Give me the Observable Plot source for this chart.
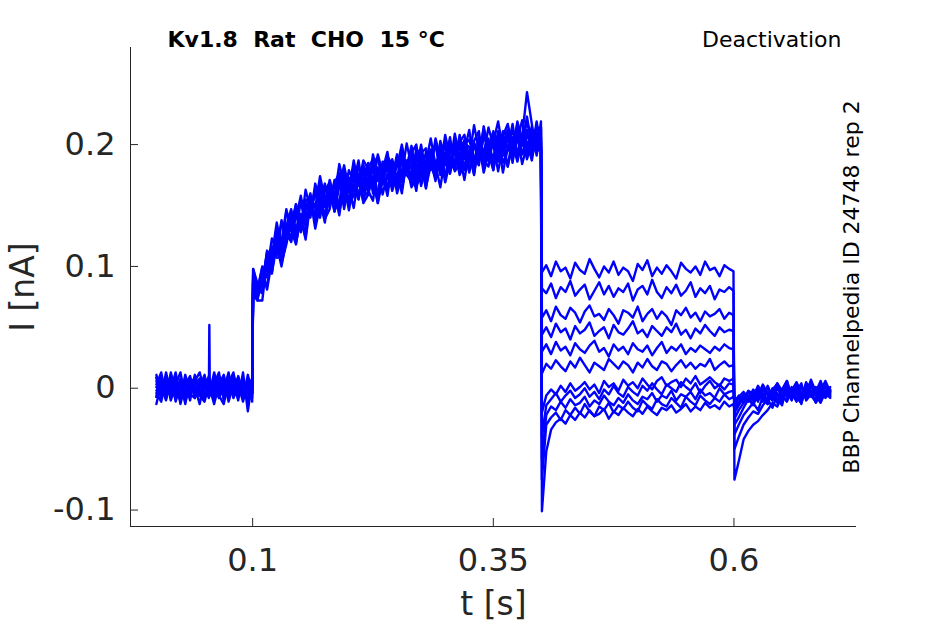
<!DOCTYPE html>
<html>
<head>
<meta charset="utf-8">
<script src="https://cdn.jsdelivr.net/npm/d3@7"></script>
<script src="https://cdn.jsdelivr.net/npm/@observablehq/plot@0.6"></script>
<style>
  html, body { margin: 0; padding: 0; background: #fff; }
  #chart svg { display: block; }
</style>
</head>
<body>
<div id="chart"></div>
<script>
// ---- text ----
const titleText = "Kv1.8\u00a0\u00a0Rat\u00a0\u00a0CHO\u00a0\u00a015 °C";
const protocolText = "Deactivation";
const sideText = "BBP Channelpedia ID 24748 rep 2";
const xLabel = "t [s]";
const yLabel = "I [nA]";

// ---- axes ----
const xTicks = [0.1, 0.35, 0.6];
const yTicks = [-0.1, 0, 0.1, 0.2];
const xDomain = [-0.0269, 0.7273];
const yDomain = [-0.1135, 0.2797];

// ---- sample times (ms), per protocol segment ----
const timeBaselineMs = [0,5,10,15,20,25,30,35,40,45,50,54.5,55,55.5,60,65,70,75,80,85,90,95,99.5];
const timeActivationMs = [100.5,105,110,115,120,125,130,135,140,145,150,155,160,165,170,175,180,185,190,195,200,205,210,215,220,225,230,235,240,245,250,255,260,265,270,275,280,285,290,295,300,305,310,315,320,325,330,335,340,345,350,355,360,365,370,375,380,385,390,395,399.5];
const timeDeactivationMs = [400.5,405,410,415,420,425,430,435,440,445,450,455,460,465,470,475,480,485,490,495,500,505,510,515,520,525,530,535,540,545,550,555,560,565,570,575,580,585,590,595,599.5];
const timeReturnMs = [600.5,605,610,615,620,625,630,635,640,645,650,655,660,665,670,675,680,685,690,695,700];

// ---- current (pA), one row per sweep ----
const baselinePA = [
  [6,-8,13,-4,8,-13,3,10,-7,1,11,-6,-3,4,-10,7,-1,13,-8,3,-11,6,-4],
  [-7,10,-3,11,-11,4,-6,8,1,-13,6,8,3,-4,10,-8,4,-3,11,-7,8,-13,1],
  [11,-4,7,-10,3,13,-7,-1,10,-6,-11,3,7,-1,4,13,-10,1,-6,10,-3,7,-8],
  [-13,4,-8,7,-3,-10,11,-4,6,13,-3,-7,-4,0,-13,3,11,-7,4,-10,13,-19,6],
  [3,13,-6,1,-8,8,-11,4,-3,7,1,-4,52,-1,8,-6,-13,7,-3,4,-8,11,-4],
  [-4,-11,8,-1,13,-6,4,-10,11,-3,7,-8,-6,3,-3,10,-7,4,13,-6,1,-10,8],
  [8,1,-10,13,-4,6,-13,7,-8,4,-1,10,6,-3,13,-4,8,-11,3,7,-7,3,-11],
  [-7,5,3,-4,7,-1,6,-5,-8,7,-6,1,3,5,-5,1,-3,7,-7,-1,4,-4,2],
  [1,-4,8,-8,4,-6,9,1,-3,-6,3,9,0,-4,4,-8,2,-6,5,8,-3,6,-5],
  [9,-2,-5,3,-9,2,-3,8,5,-2,-9,4,7,-6,1,6,-8,2,-3,9,-7,1,8],
  [-2,6,-9,7,1,-8,5,-4,3,8,6,-7,-6,-5,-4,3,7,-9,6,-6,3,-5,-1]
];
const activationPA = [
  [93,80,100,97,123,114,138,121,144,127,154,152,140,168,153,168,148,171,165,183,162,183,166,179,163,192,174,170,190,184,171,197,179,196,172,193,197,179,205,189,185,206,181,202,208,189,202,187,215,196,211,191,207,217,198,204,220,197,215,193,219],
  [87,79,81,106,101,123,105,130,120,147,135,130,154,140,165,140,158,149,171,147,170,165,155,180,162,154,181,177,164,188,172,164,185,173,191,166,183,192,175,197,174,182,202,178,195,177,200,193,185,205,179,203,191,207,185,212,192,202,187,210,196],
  [88,81,99,91,114,109,136,125,121,146,152,137,147,164,140,162,169,155,152,180,163,176,156,183,175,164,160,186,184,173,192,169,182,167,192,196,178,190,175,203,187,181,202,178,200,204,189,183,210,200,188,211,191,206,187,215,199,212,193,219,198],
  [80,75,91,84,116,107,108,134,130,118,143,133,156,131,150,140,163,160,142,170,152,158,176,153,173,171,152,179,164,184,160,175,183,165,172,192,165,183,173,192,173,197,182,191,171,195,183,202,177,193,200,178,199,182,206,189,205,188,202,194,198],
  [98,83,84,110,109,136,116,145,135,151,132,163,147,158,169,149,171,157,184,167,162,187,167,187,180,165,192,177,191,172,182,200,178,193,200,175,185,205,183,195,202,182,209,190,202,188,216,195,212,192,202,219,196,212,194,219,204,218,204,214,213],
  [86,81,78,108,104,127,106,132,123,147,129,146,160,136,146,164,164,145,172,154,163,181,155,173,163,183,181,159,176,165,190,173,186,190,167,173,186,196,172,194,183,203,178,184,201,198,179,207,193,187,207,206,185,195,213,193,205,191,210,204,202],
  [93,82,85,113,106,125,110,133,147,130,132,155,151,140,170,152,151,169,176,152,173,162,184,161,171,184,190,168,172,185,168,193,182,199,176,174,194,184,201,175,193,201,182,208,188,186,203,211,184,196,210,189,209,196,217,191,207,243,217,191,214],
  [80,72,95,81,105,117,103,118,139,122,140,124,155,142,157,139,147,169,145,167,164,148,174,157,161,182,158,176,158,184,171,165,185,180,162,191,175,187,170,191,169,186,179,201,179,193,176,202,187,182,206,186,204,182,201,186,204,192,201,198,203],
  [89,74,87,106,94,127,110,131,124,151,128,151,146,141,166,149,168,145,166,175,153,175,158,168,185,160,178,167,188,180,164,188,175,170,197,189,171,195,185,180,202,177,198,188,204,178,201,185,206,198,183,207,192,212,189,205,192,208,199,201,196],
  [98,86,86,112,102,132,120,147,129,139,158,137,158,148,174,155,166,152,177,159,179,169,187,161,181,188,170,179,194,170,190,175,201,182,180,200,176,194,200,181,208,189,185,206,195,212,185,206,192,214,199,191,211,207,192,217,200,223,199,215,206],
  [77,72,72,106,95,117,100,122,136,119,140,122,152,140,154,136,165,146,154,167,146,166,176,152,159,174,152,171,181,162,176,160,187,172,165,184,164,189,183,165,191,176,196,175,184,193,175,203,180,193,179,203,177,198,190,207,184,200,190,205,194]
];
const deactivationPA = [
  [95,101,92,104,96,99,90,103,97,94,106,98,91,100,95,104,93,99,96,88,102,97,105,92,99,94,101,96,90,103,98,95,100,93,104,97,99,92,101,98,96],
  [82,78,86,74,83,79,88,76,81,85,73,80,87,77,84,75,82,79,86,72,81,84,77,89,79,74,83,78,85,76,80,87,75,82,78,84,73,81,79,83,80],
  [58,64,55,67,60,57,66,62,54,63,68,59,61,56,65,60,53,64,62,58,67,55,61,65,57,63,59,52,64,60,66,58,62,55,63,59,61,65,57,62,60],
  [44,50,42,53,46,49,40,51,45,48,54,43,47,50,41,52,46,44,49,55,45,48,42,51,47,43,50,46,53,44,48,41,49,45,52,47,43,50,46,48,47],
  [30,36,28,38,31,34,27,37,32,29,35,39,30,33,26,36,31,34,28,37,32,30,35,27,33,38,29,34,31,36,28,33,30,35,32,29,34,31,36,33,32],
  [12,20,16,23,18,14,22,17,25,19,13,21,18,15,24,20,16,22,19,13,21,17,24,18,15,22,20,14,19,23,17,21,16,20,18,24,15,19,22,18,19],
  [-20,-6,-1,-5,2,-3,4,-2,1,5,-1,3,-4,6,1,4,-2,7,2,5,0,8,3,-1,6,9,2,5,7,1,8,4,10,3,6,9,5,2,8,6,8],
  [-40,-14,-9,-4,-11,-6,-2,-8,-5,0,-7,-3,-9,-1,-5,2,-4,-7,1,-3,-6,2,-2,4,-1,-5,3,0,-3,5,1,-2,4,-4,2,6,0,3,-1,4,3],
  [-58,-22,-15,-18,-11,-16,-9,-14,-12,-7,-15,-10,-13,-6,-11,-14,-8,-12,-5,-10,-13,-7,-9,-4,-11,-6,-8,-2,-10,-5,-7,-3,-9,-1,-6,-4,-8,0,-5,-3,-2],
  [-75,-30,-24,-20,-26,-18,-22,-16,-21,-13,-19,-23,-15,-18,-12,-20,-14,-17,-11,-16,-19,-10,-14,-17,-9,-13,-15,-8,-12,-16,-7,-11,-14,-6,-10,-13,-8,-11,-5,-9,-7],
  [-101,-52,-34,-28,-25,-29,-22,-26,-20,-24,-18,-23,-21,-17,-25,-19,-22,-16,-20,-23,-17,-21,-15,-19,-22,-16,-18,-14,-20,-17,-13,-19,-15,-18,-12,-16,-14,-17,-11,-15,-13]
];
const returnPA = [
  [-75,-60,-42,-35,-30,-27,-22,-18,-12,-15,-6,-10,-2,-8,-12,0,-7,-4,-10,3,-6],
  [-50,-40,-30,-24,-19,-21,-14,-9,-16,-5,-11,1,-8,-3,-13,4,-6,-9,2,-4,-8],
  [-38,-30,-22,-17,-12,-18,-7,-13,-2,-9,-14,3,-6,-1,-10,5,-4,-11,-2,6,-3],
  [-30,-24,-16,-9,-14,-4,-11,2,-7,-12,-1,6,-8,-3,4,-10,-5,1,-9,-2,-4],
  [-25,-18,-12,-6,-10,-2,-8,-13,0,-5,-9,3,-4,-11,1,-6,7,-3,-8,2,-1],
  [-20,-14,-8,-3,-9,1,-5,-11,-2,4,-7,-1,-10,3,-4,-8,2,-6,-12,-3,-2],
  [-16,-11,-5,-9,-1,-6,3,-4,-10,1,-3,6,-7,-2,-9,0,5,-5,-1,-7,1],
  [-14,-8,-12,-3,-7,2,-5,-9,-1,3,-6,-11,-2,5,-4,-8,1,-3,6,-5,-2],
  [-12,-6,-9,-2,-5,-11,0,-4,-8,4,-2,-7,1,-5,-10,2,-3,-6,4,-8,-3],
  [-10,-7,-3,-8,-13,-2,-6,1,-9,-4,-12,2,-5,-1,-8,3,-6,-11,0,-4,-7],
  [-18,-12,-7,-11,-4,-9,-1,-6,-10,0,-7,-3,-9,2,-5,-8,-2,-12,-4,1,-5]
];

// ---- build long table (s, nA) ----
const timeMs = [...timeBaselineMs, ...timeActivationMs, ...timeDeactivationMs, ...timeReturnMs];
const rows = [];
baselinePA.forEach((_, k) => {
  const vals = [...baselinePA[k], ...activationPA[k], ...deactivationPA[k], ...returnPA[k]];
  vals.forEach((v, j) => rows.push({sweep: k, t: timeMs[j] / 1000, i: v / 1000}));
});

const ink = "#262626";
const chart = Plot.plot({
  width: 945,
  height: 624,
  marginLeft: 130,
  marginRight: 89,
  marginTop: 47,
  marginBottom: 98,
  style: {fontFamily: "'DejaVu Sans', sans-serif", color: ink, background: "#fff"},
  x: {domain: xDomain, label: null},
  y: {domain: yDomain, label: null},
  marks: [
    Plot.line(rows, {x: "t", y: "i", z: "sweep", stroke: "#0000ff", strokeWidth: 2.4, strokeLinejoin: "round"}),
    Plot.ruleX([xDomain[0]], {stroke: ink, strokeWidth: 1}),
    Plot.ruleY([yDomain[0]], {stroke: ink, strokeWidth: 1}),
    Plot.axisY({ticks: yTicks, tickSize: -8, tickPadding: 23, fontSize: 32, tickFormat: d => String(d), label: null, stroke: ink}),
    Plot.axisX({ticks: xTicks, tickSize: -8, tickPadding: 30, fontSize: 32, tickFormat: d => String(d), label: null, stroke: ink}),
    Plot.text([yLabel], {text: d => d, frameAnchor: "left", rotate: -90, dx: -107, fontSize: 33, fill: ink, textAnchor: "middle", lineAnchor: "middle"}),
    Plot.text([xLabel], {text: d => d, frameAnchor: "bottom", dy: 78, fontSize: 33, fill: ink, textAnchor: "middle", lineAnchor: "middle"}),
    Plot.text([titleText], {text: d => d, frameAnchor: "top-left", dx: 37, dy: -8, fontSize: 22, fontWeight: "bold", fill: "#000", textAnchor: "start", lineAnchor: "middle"}),
    Plot.text([protocolText], {text: d => d, frameAnchor: "top-right", dx: -15, dy: -8, fontSize: 22, fill: "#000", textAnchor: "end", lineAnchor: "middle"}),
    Plot.text([sideText], {text: d => d, frameAnchor: "right", dx: -5, rotate: -90, fontSize: 22, fill: "#000", textAnchor: "middle", lineAnchor: "middle"})
  ]
});
document.getElementById("chart").appendChild(chart);
</script>
</body>
</html>
